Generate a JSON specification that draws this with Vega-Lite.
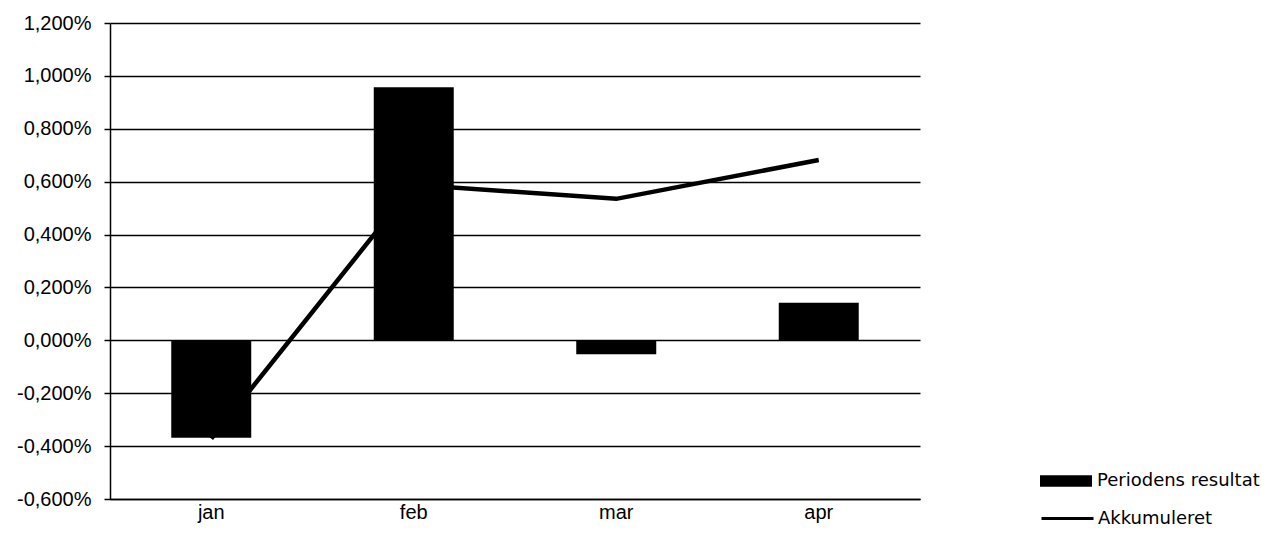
{
  "$schema": "https://vega.github.io/schema/vega-lite/v6.json",
  "width": 810,
  "height": 476,
  "autosize": {"type": "none"},
  "padding": {"left": 110, "top": 23, "right": 352, "bottom": 36},
  "background": "white",
  "config": {"view": {"stroke": null}},
  "data": {
    "values": [
      {"m": "jan", "p": -0.368, "a": -0.372},
      {"m": "feb", "p": 0.957, "a": 0.588},
      {"m": "mar", "p": -0.053, "a": 0.535},
      {"m": "apr", "p": 0.142, "a": 0.682}
    ]
  },
  "encoding": {
    "x": {
      "field": "m",
      "type": "nominal",
      "sort": null,
      "scale": {"paddingInner": 0, "paddingOuter": 0},
      "axis": {
        "title": null,
        "labelAngle": 0,
        "labelFont": "Liberation Sans",
        "labelFontSize": 20,
        "labelColor": "black",
        "labelPadding": 3,
        "ticks": false,
        "domainColor": "black",
        "domainWidth": 1.5,
        "grid": false
      }
    }
  },
  "layer": [
    {
      "mark": {"type": "bar", "width": {"band": 0.395}},
      "encoding": {
        "y": {
          "field": "p",
          "type": "quantitative",
          "scale": {"domain": [-0.6, 1.2], "nice": false, "zero": false},
          "axis": {
            "title": null,
            "values": [-0.6, -0.4, -0.2, 0, 0.2, 0.4, 0.6, 0.8, 1.0, 1.2],
            "labelExpr": "replace(replace(format(datum.value, '.3f'), '.', ','), '\u2212', '-') + '%'",
            "labelFont": "Liberation Sans",
            "labelFontSize": 20,
            "labelColor": "black",
            "labelPadding": 13,
            "tickSize": 6,
            "tickColor": "black",
            "tickWidth": 1.5,
            "domainColor": "black",
            "domainWidth": 1.5,
            "grid": true,
            "gridColor": "black",
            "gridOpacity": 1,
            "gridWidth": 1.5
          }
        },
        "fill": {
          "datum": "Periodens resultat",
          "type": "nominal",
          "scale": {"range": ["black"]},
          "legend": {
            "orient": "none",
            "legendX": 930,
            "legendY": 432,
            "title": null,
            "symbolType": "M-1,-0.22H1V0.22H-1Z",
            "symbolSize": 2704,
            "symbolStrokeWidth": 0,
            "labelFont": "DejaVu Sans",
            "labelFontSize": 18,
            "labelColor": "black",
            "labelOffset": 5,
            "labelLimit": 0
          }
        }
      }
    },
    {
      "mark": {"type": "line", "strokeWidth": 4.5},
      "encoding": {
        "y": {"field": "a", "type": "quantitative"},
        "stroke": {
          "datum": "Akkumuleret",
          "type": "nominal",
          "scale": {"range": ["black"]},
          "legend": {
            "orient": "none",
            "legendX": 930,
            "legendY": 468,
            "title": null,
            "symbolType": "M-1,0H1",
            "symbolSize": 2704,
            "symbolStrokeWidth": 3,
            "labelFont": "DejaVu Sans",
            "labelFontSize": 18,
            "labelColor": "black",
            "labelOffset": 3,
            "labelLimit": 0
          }
        }
      }
    }
  ]
}
